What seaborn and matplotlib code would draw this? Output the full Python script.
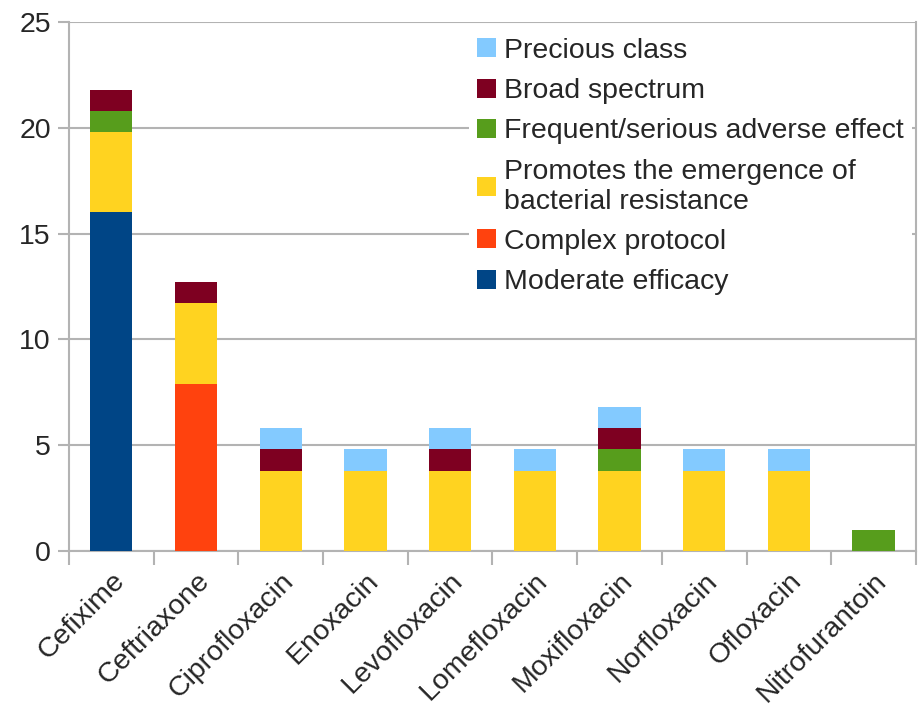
import matplotlib
matplotlib.use('Agg')
import matplotlib.pyplot as plt
import seaborn as sns
import numpy as np
from matplotlib.patches import Patch

# --- DATA ---
drugs = ["Cefixime", "Ceftriaxone", "Ciprofloxacin", "Enoxacin", "Levofloxacin",
         "Lomefloxacin", "Moxifloxacin", "Norfloxacin", "Ofloxacin", "Nitrofurantoin"]

# stacked from the bottom up
moderate_efficacy = [16, 0, 0, 0, 0, 0, 0, 0, 0, 0]
complex_protocol = [0, 7.9, 0, 0, 0, 0, 0, 0, 0, 0]
promotes_resistance = [3.8, 3.8, 3.8, 3.8, 3.8, 3.8, 3.8, 3.8, 3.8, 0]
adverse_effect = [1, 0, 0, 0, 0, 0, 1, 0, 0, 1]
broad_spectrum = [1, 1, 1, 0, 1, 0, 1, 0, 0, 0]
precious_class = [0, 0, 1, 1, 1, 1, 1, 1, 1, 0]

layer_names = ["Moderate efficacy", "Complex protocol",
               "Promotes the emergence of\nbacterial resistance",
               "Frequent/serious adverse effect", "Broad spectrum", "Precious class"]
layer_values = [moderate_efficacy, complex_protocol, promotes_resistance,
                adverse_effect, broad_spectrum, precious_class]
layer_colors = ["#004586", "#ff420e", "#ffd320", "#579d1c", "#7e0021", "#83caff"]

FS = 20.5

sns.set_style("white")
plt.rcParams['font.family'] = ['Liberation Sans', 'DejaVu Sans']

fig = plt.figure(figsize=(9.22, 7.04), dpi=100)
ax = fig.add_axes([0.0748, 0.2173, 0.9187, 0.7515])

# draw cumulative totals, top layer first, so each lower layer overlays the one above
cum = np.cumsum(np.array(layer_values, dtype=float), axis=0)
for i in range(len(layer_names) - 1, -1, -1):
    sns.barplot(x=drugs, y=cum[i], order=drugs, color=layer_colors[i],
                width=0.5, errorbar=None, saturation=1, linewidth=0,
                ax=ax, zorder=3)

ax.set_xlim(-0.5, len(drugs) - 0.5)
ax.set_ylim(0, 25)
ax.set_yticks([0, 5, 10, 15, 20, 25])
ax.yaxis.grid(True, color="#b3b3b3", linewidth=1.5, zorder=0)
ax.set_axisbelow(True)

for side in ["left", "right", "bottom"]:
    ax.spines[side].set_visible(True)
    ax.spines[side].set_color("#b3b3b3")
    ax.spines[side].set_linewidth(1.5)
ax.spines["top"].set_visible(False)

ax.set_xticks(np.arange(len(drugs)))
ax.set_xticklabels(drugs, rotation=45, ha="right", rotation_mode="anchor", fontsize=FS)
ax.set_xticks(np.arange(len(drugs) + 1) - 0.5, minor=True)
ax.tick_params(axis="x", which="major", length=0, pad=12)
ax.tick_params(axis="x", which="minor", length=10, width=1.5, color="#b3b3b3",
               direction="out", bottom=True)
ax.tick_params(axis="y", length=8, width=1.5, color="#b3b3b3", direction="out",
               left=True, labelsize=FS, pad=5)
ax.set_xlabel("")
ax.set_ylabel("")

handles = [Patch(facecolor=c, edgecolor="none") for c in layer_colors]
leg = ax.legend(handles[::-1], layer_names[::-1], loc="upper left",
                bbox_to_anchor=(0.4717, 0.986), fontsize=FS, frameon=True,
                handlelength=0.65, handleheight=0.65, handletextpad=0.3,
                labelspacing=0.5, borderaxespad=0, borderpad=0.3)
leg.get_frame().set_facecolor("white")
leg.get_frame().set_edgecolor("none")
leg.get_frame().set_alpha(1)
leg.set_zorder(5)

plt.savefig("out.png", dpi=100)
